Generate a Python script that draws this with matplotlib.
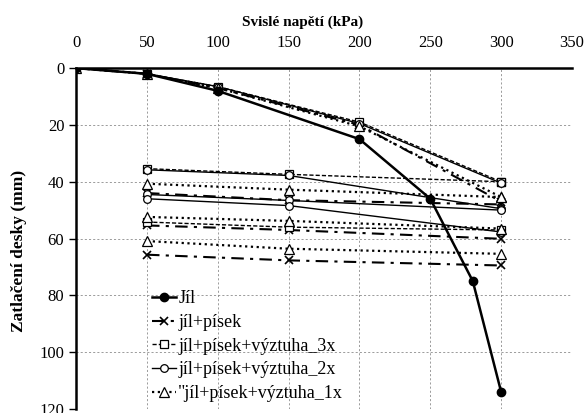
import matplotlib
matplotlib.use("Agg")
import matplotlib.pyplot as plt

plt.rcParams['font.family'] = ['Liberation Serif', 'DejaVu Serif']

# Jíl
jil_x = [0, 50, 100, 200, 250, 280, 300]
jil_y = [0, 2, 8, 25, 46, 75, 114]

# loading from zero and the repeated tests starting at 50 kPa
x_up = [0, 50, 100, 200, 300]
x_low = [50, 150, 300]

pisek_up = [0, 2, 7, 20, 47]
pisek_low = [[44, 46.5, 48], [55.4, 57, 60.1], [65.7, 67.7, 69.5]]

v3_up = [0, 2, 6.5, 19, 40]
v3_low = [[35.4, 37.4, 40], [54.2, 56, 57]]

v2_up = [0, 2, 6.5, 19.5, 40.5]
v2_low = [[35.8, 37.8, 49.5], [44.5, 46.6, 50], [46, 48.4, 57.7]]

v1_up = [0, 2, 7, 20.5, 45.4]
v1_low = [[40.7, 42.8, 45.4], [52.4, 53.8, 56.5], [60.9, 63.6, 65.4]]

labels = ["Jíl", "jíl+písek", "jíl+písek+výztuha_3x",
          "jíl+písek+výztuha_2x", "\"jíl+písek+výztuha_1x"]

fig = plt.figure(figsize=(5.86, 4.13), dpi=100)
ax = fig.add_axes([0.130, 0.01, 0.846, 0.825])

st_pisek = dict(color='black', lw=1.5, ls=(0, (6, 3, 1.5, 3)), marker='x', ms=5.5, mew=1.2)
st_v3 = dict(color='black', lw=1.0, ls=(0, (3, 1.5)), marker='s', ms=5.5, mfc='white', mew=0.9)
st_v2 = dict(color='black', lw=1.0, ls='-', marker='o', ms=5.5, mfc='white', mew=0.9)
st_v1 = dict(color='black', lw=1.6, ls=(0, (1, 1.6)), marker='^', ms=6.5, mfc='white', mew=0.9)

h = []
h += ax.plot(x_up, pisek_up, **st_pisek)
for y in pisek_low:
    ax.plot(x_low, y, **st_pisek)
h += ax.plot(x_up, v3_up, **st_v3)
for y in v3_low:
    ax.plot(x_low, y, **st_v3)
h += ax.plot(x_up, v2_up, **st_v2)
for y in v2_low:
    ax.plot(x_low, y, **st_v2)
h += ax.plot(x_up, v1_up, **st_v1)
for y in v1_low:
    ax.plot(x_low, y, **st_v1)
hj = ax.plot(jil_x, jil_y, color='black', lw=1.8, marker='o', ms=6)
handles = hj + h

ax.set_xlim(0, 350)
ax.set_ylim(120, 0)
ax.set_xticks(range(0, 351, 50))
ax.set_yticks(range(0, 121, 20))
ax.xaxis.tick_top()
ax.xaxis.set_label_position('top')
ax.set_xlabel("Svislé napětí (kPa)", fontsize=11, fontweight='bold')
ax.set_ylabel("Zatlačení desky (mm)", fontsize=12.5, fontweight='bold')
ax.xaxis.set_label_coords(0.456, 1.125)
ax.yaxis.set_label_coords(-0.10, 0.463)
ax.tick_params(labelsize=12, direction='out', length=5, width=1)
ax.tick_params(axis='x', length=0, pad=12)

ax.grid(True, ls=(0, (2.5, 2.5)), color='#8c8c8c', lw=0.6)
ax.set_axisbelow(True)
for s in ['right', 'bottom']:
    ax.spines[s].set_visible(False)
for s in ['left', 'top']:
    ax.spines[s].set_linewidth(1.8)

ax.legend(handles, labels, loc='upper left', bbox_to_anchor=(0.153, 0.348),
          frameon=False, fontsize=13, handlelength=1.3, handletextpad=0.15,
          labelspacing=0.37, borderpad=0, borderaxespad=0)

fig.savefig("out.png", dpi=100)
